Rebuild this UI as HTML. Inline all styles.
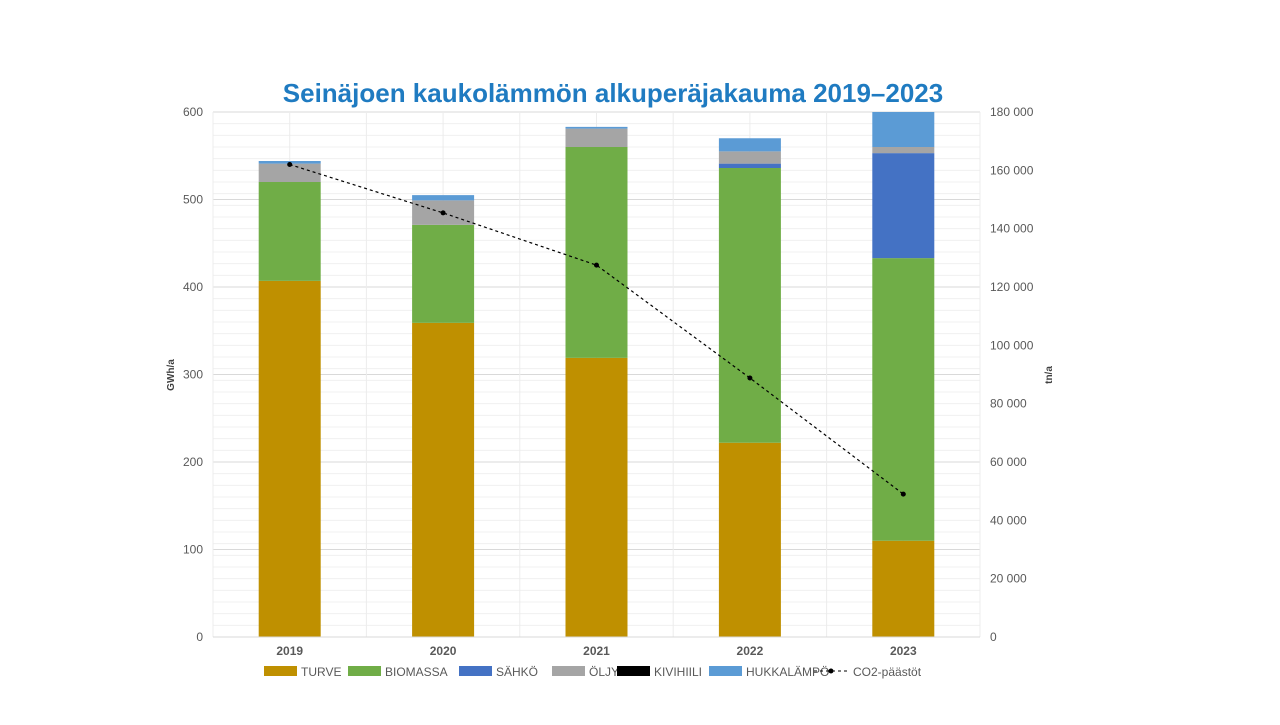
<!DOCTYPE html>
<html><head><meta charset="utf-8">
<style>
body{margin:0;background:#fff;width:1280px;height:720px;overflow:hidden;font-family:"Liberation Sans",sans-serif;}
</style></head><body>
<svg id="chart" width="1280" height="720" xmlns="http://www.w3.org/2000/svg" font-family="Liberation Sans, sans-serif">
<text x="613" y="102" text-anchor="middle" font-size="26" font-weight="bold" fill="#1f7bc1">Seinäjoen kaukolämmön alkuperäjakauma 2019–2023</text>
<g id="grid"></g><g id="bars"></g><g id="line"></g><g id="axes"></g><g id="legend"></g>
</svg>
<script>
const years=["2019","2020","2021","2022","2023"];
const turve=[407,359,319,222,110];
const biomassa=[113,112,241,314,323];
const sahko=[0,0,0,5,120];
const oljy=[21,28,21,14,7];
const kivihiili=[0,0,0,0,0];
const hukka=[3,6,2,15,40];
const co2=[162000,145400,127500,88800,49000];
const leftTicks=[0,100,200,300,400,500,600];
const rightTicks=[0,20000,40000,60000,80000,100000,120000,140000,160000,180000];
const series=[["TURVE",turve,"#bf9000"],["BIOMASSA",biomassa,"#70ad47"],["SÄHKÖ",sahko,"#4472c4"],["ÖLJY",oljy,"#a5a5a5"],["KIVIHIILI",kivihiili,"#000000"],["HUKKALÄMPÖ",hukka,"#5b9bd5"]];
const NS="http://www.w3.org/2000/svg";
const X0=213,X1=980,Y0=637,Y1=112;
const yL=v=>Y0-(v/600)*(Y0-Y1);
const yR=v=>Y0-(v/180000)*(Y0-Y1);
const cw=(X1-X0)/years.length;
const xC=i=>X0+cw*(i+0.5);
function mk(t,a,p){const e=document.createElementNS(NS,t);for(const k in a)e.setAttribute(k,a[k]);p.appendChild(e);return e;}
const grid=document.getElementById('grid');
for(let v=0;v<=180000;v+=4000){const l=mk('line',{x1:X0,x2:X1,y1:yR(v),y2:yR(v),stroke:'#f0f0f0','stroke-width':1},grid);}
leftTicks.forEach(v=>{const l=mk('line',{x1:X0,x2:X1,y1:yL(v),y2:yL(v),stroke:'#d9d9d9','stroke-width':1},grid);});
for(let i=0;i<=years.length*2;i++){const x=X0+cw*i/2;const l=mk('line',{x1:x,x2:x,y1:Y1,y2:Y0,stroke:'#ececec','stroke-width':1},grid);}
const bars=document.getElementById('bars');
years.forEach((y,i)=>{let cum=0;series.forEach(([n,arr,c])=>{const v=arr[i];if(v>0){const r=mk('rect',{x:xC(i)-31,width:62,y:yL(cum+v),height:yL(cum)-yL(cum+v),fill:c},bars);}cum+=v;});});
const lg=document.getElementById('line');
const pl=mk('polyline',{points:co2.map((v,i)=>xC(i)+','+yR(v)).join(' '),fill:'none',stroke:'#000','stroke-width':1.2,'stroke-dasharray':'3,3'},lg);

co2.forEach((v,i)=>{const c=mk('circle',{cx:xC(i),cy:yR(v),r:2.5,fill:'#000'},lg);});
const ax=document.getElementById('axes');
const base=mk('line',{x1:X0,x2:X1,y1:Y0,y2:Y0,stroke:'#d9d9d9'},ax);
leftTicks.forEach(v=>{const t=mk('text',{x:203,y:yL(v)+4,'text-anchor':'end','font-size':12,fill:'#595959'},ax);t.textContent=v;});
rightTicks.forEach(v=>{const t=mk('text',{x:990,y:yR(v)+4,'font-size':12,fill:'#595959'},ax);t.textContent=v===0?'0':v.toLocaleString('en').replace(/,/g,' ');});
years.forEach((y,i)=>{const t=mk('text',{x:xC(i),y:655,'text-anchor':'middle','font-size':12,'font-weight':'bold',fill:'#595959'},ax);t.textContent=y;});
const lt=mk('text',{transform:'translate(174,375) rotate(-90)','text-anchor':'middle','font-size':10,'font-weight':'bold',fill:'#404040'},ax);lt.textContent='GWh/a';
const rt=mk('text',{transform:'translate(1052,375) rotate(-90)','text-anchor':'middle','font-size':10,'font-weight':'bold',fill:'#404040'},ax);rt.textContent='tn/a';
const leg=document.getElementById('legend');
const lx=[264,348,459,552,617,709];
series.forEach(([n,arr,c],i)=>{const r=mk('rect',{x:lx[i],y:666,width:33,height:10,fill:c},leg);const t=mk('text',{x:lx[i]+37,y:676,'font-size':12,fill:'#595959'},leg);t.textContent=n;});
const ll=mk('line',{x1:814,x2:848,y1:671,y2:671,stroke:'#000','stroke-dasharray':'3,3'},leg);
const lc=mk('circle',{cx:831,cy:671,r:2.5,fill:'#000'},leg);
const lt2=mk('text',{x:853,y:676,'font-size':12,fill:'#595959'},leg);lt2.textContent='CO2-päästöt';
</script>
</body></html>
